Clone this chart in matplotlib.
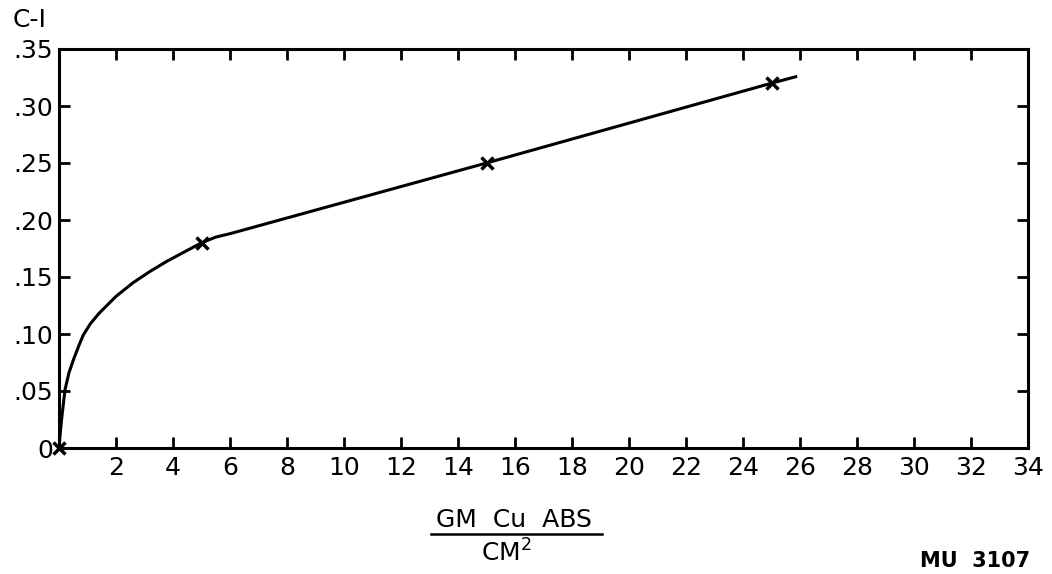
import matplotlib
matplotlib.use("Agg")
import matplotlib.pyplot as plt
from matplotlib.lines import Line2D

# Curve
curve_x = [0.0, 0.04, 0.09, 0.21, 0.35, 0.5, 0.7, 0.85, 1.1, 1.4, 2.0, 2.6, 3.2, 3.8, 4.4, 5.0, 5.5, 6.0, 15.0, 25.0, 25.9]
curve_y = [0.0, 0.012, 0.025, 0.051, 0.066, 0.077, 0.090, 0.099, 0.109, 0.118, 0.133, 0.145, 0.155, 0.164, 0.172, 0.180, 0.185, 0.188, 0.250, 0.320, 0.326]

# Measured points (x markers)
pts_x = [0.0, 5.0, 15.0, 25.0]
pts_y = [0.0, 0.18, 0.25, 0.32]

xticks = [2, 4, 6, 8, 10, 12, 14, 16, 18, 20, 22, 24, 26, 28, 30, 32, 34]
yticks = [0, 0.05, 0.10, 0.15, 0.20, 0.25, 0.30, 0.35]
ytick_labels = ["0", ".05", ".10", ".15", ".20", ".25", ".30", ".35"]

plt.rcParams['font.family'] = ['DejaVu Sans']

fig = plt.figure(figsize=(10.52, 5.74), dpi=100)
ax = fig.add_axes([59/1052, 1-448/574, (1028-59)/1052, (448-49)/574])

ax.plot(curve_x, curve_y, color='black', lw=2.2, solid_capstyle='butt',
        solid_joinstyle='round')
ax.plot(pts_x, pts_y, linestyle='none', marker='x', color='black',
        markersize=9, markeredgewidth=2.5, clip_on=False)

ax.set_xlim(0, 34)
ax.set_ylim(0, 0.35)
ax.set_xticks(xticks)
ax.set_xticklabels([str(t) for t in xticks])
ax.set_yticks(yticks)
ax.set_yticklabels(ytick_labels)

for s in ax.spines.values():
    s.set_linewidth(2.2)

ax.tick_params(axis='both', direction='in', length=8, width=2, labelsize=18,
               top=True, right=True, colors='black')
ax.tick_params(axis='x', pad=6)
ax.tick_params(axis='y', pad=4)

fig.text(13/1052, 1-20/574, "C-I", fontsize=18, va='center', ha='left')

fig.text(514/1052, 1-520/574, "GM  Cu  ABS", fontsize=18, va='center', ha='center')
fig.add_artist(Line2D([431/1052, 602/1052], [1-534/574, 1-534/574],
                      transform=fig.transFigure, color='black', lw=1.8))
fig.text(506/1052, 1-553/574, r"CM$^{2}$", fontsize=18, va='center', ha='center')

fig.text(1030/1052, 1-561/574, "MU  3107", fontsize=15, fontweight='bold',
         va='center', ha='right')

fig.savefig("out.png", dpi=100, facecolor='white')
